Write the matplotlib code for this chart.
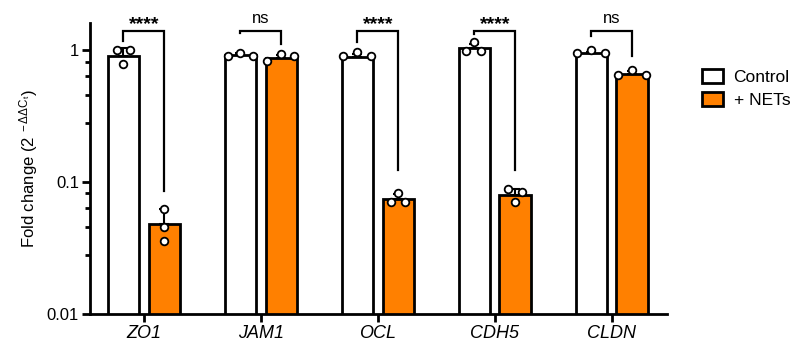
import numpy as np
import matplotlib
matplotlib.use("Agg")
import matplotlib.pyplot as plt
from matplotlib.patches import Patch
from matplotlib.ticker import FixedLocator, FixedFormatter, NullFormatter

plt.rcParams['font.family'] = ['Liberation Sans', 'DejaVu Sans']
plt.rcParams['mathtext.fontset'] = 'custom'
plt.rcParams['mathtext.rm'] = 'Liberation Sans'
plt.rcParams['mathtext.it'] = 'Liberation Sans:italic'

# genes and group labels
genes = ['ZO1', 'JAM1', 'OCL', 'CDH5', 'CLDN']
groups = ['Control', '+ NETs']

# bar heights (mean fold change)
ctrl_mean = [0.91, 0.92, 0.89, 1.03, 0.95]
nets_mean = [0.048, 0.87, 0.074, 0.080, 0.655]

# upper error (SD)
ctrl_sd = [0.13, 0.03, 0.04, 0.09, 0.02]
nets_sd = [0.014, 0.05, 0.007, 0.008, 0.04]

# individual replicates
ctrl_pts = [[1.0, 0.78, 1.0],
            [0.91, 0.96, 0.91],
            [0.90, 0.965, 0.90],
            [0.98, 1.15, 0.98],
            [0.96, 1.0, 0.96]]
nets_pts = [[0.063, 0.046, 0.036],
            [0.83, 0.93, 0.905],
            [0.071, 0.083, 0.071],
            [0.088, 0.071, 0.084],
            [0.645, 0.71, 0.645]]

# significance labels and bracket leg ends (left, right)
sig = ['****', 'ns', '****', '****', 'ns']
bracket_top = 1.395
leg_left = [1.17, 1.35, 1.15, 1.32, 1.28]
leg_right = [0.085, 1.11, 0.123, 0.123, 0.90]

# layout / style
orange = '#ff8000'
lw = 2.0
width = 0.27
off = 0.175
ctrl_jit = [[-0.055, 0, 0.055], [-0.11, 0, 0.11], [-0.12, 0, 0.12],
            [-0.075, 0, 0.06], [-0.12, 0, 0.12]]
nets_jit = [[0, 0, 0], [-0.12, 0, 0.11], [-0.06, 0, 0.06],
            [-0.06, 0, 0.06], [-0.12, 0, 0.12]]


def draw_group(ax, x, means, sds, pts, jit, color):
    """bars with upper-only error bars and replicate points"""
    ax.bar(x, means, width=width, color=color, edgecolor='black',
           linewidth=lw, zorder=2)
    ax.errorbar(x, means, yerr=[np.zeros(len(sds)), sds], fmt='none',
                ecolor='black', elinewidth=1.5, capsize=3.5, capthick=1.5,
                zorder=3)
    for xi, p, j in zip(x, pts, jit):
        ax.plot(xi + np.array(j), p, 'o', ms=5.5, mfc='white', mec='black',
                mew=1.3, zorder=4, clip_on=False)


def run():
    fig = plt.figure(figsize=(7.9, 3.47), dpi=100)
    ax = fig.add_axes([0.114, 0.095, 0.730, 0.838])
    ax.set_yscale('log')

    x = np.arange(len(genes))
    draw_group(ax, x - off, ctrl_mean, ctrl_sd, ctrl_pts, ctrl_jit, 'white')
    draw_group(ax, x + off, nets_mean, nets_sd, nets_pts, nets_jit, orange)

    # significance brackets
    for i in range(len(genes)):
        xl, xr = x[i] - off, x[i] + off
        ax.plot([xl, xl, xr, xr], [leg_left[i], bracket_top, bracket_top, leg_right[i]],
                color='black', lw=1.6, zorder=3, clip_on=False,
                solid_joinstyle='miter')
        if sig[i] == 'ns':
            ax.annotate('ns', (x[i], bracket_top), xytext=(0, 4),
                        textcoords='offset points', ha='center', va='bottom',
                        fontsize=12, annotation_clip=False)
        else:
            ax.annotate(sig[i], (x[i], bracket_top), xytext=(0, -1.5),
                        textcoords='offset points', ha='center', va='bottom',
                        fontsize=14, fontweight='bold', annotation_clip=False)

    ax.set_ylim(0.01, 1.6)
    ax.set_xlim(-0.46, 4.47)
    ax.yaxis.set_major_locator(FixedLocator([0.01, 0.1, 1]))
    ax.yaxis.set_major_formatter(FixedFormatter(['0.01', '0.1', '1']))
    ax.yaxis.set_minor_locator(FixedLocator([0.028, 0.046, 0.064, 0.082,
                                             0.28, 0.46, 0.64, 0.82]))
    ax.yaxis.set_minor_formatter(NullFormatter())
    ax.set_xticks(x)
    ax.set_xticklabels(genes, fontsize=13, fontstyle='italic')

    for s in ['top', 'right']:
        ax.spines[s].set_visible(False)
    for s in ['left', 'bottom']:
        ax.spines[s].set_linewidth(lw)
    ax.tick_params(axis='both', which='major', length=5.5, width=lw,
                   labelsize=12, pad=2.5)
    ax.tick_params(axis='y', which='minor', length=3.5, width=lw)
    ax.tick_params(axis='x', labelsize=13)

    ax.set_ylabel(r'Fold change (2$^{\mathregular{\ -\Delta\Delta C_t}}$)',
                  fontsize=12, labelpad=5)

    handles = [Patch(facecolor='white', edgecolor='black', linewidth=lw),
               Patch(facecolor=orange, edgecolor='black', linewidth=lw)]
    fig.legend(handles, groups, loc='upper left', bbox_to_anchor=(0.889, 0.80),
               frameon=False, fontsize=12.5, handlelength=1.2, handleheight=0.85,
               handletextpad=0.6, labelspacing=0.4, borderpad=0,
               borderaxespad=0)

    fig.savefig('out.png', dpi=100)


if __name__ == "__main__":
    run()
